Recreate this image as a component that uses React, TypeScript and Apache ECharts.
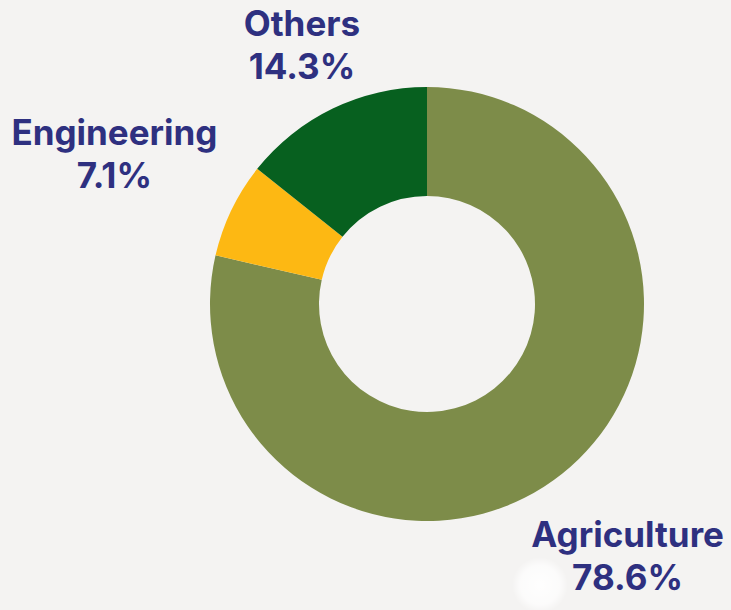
import React, { useEffect, useRef } from "react";
import * as echarts from "echarts";

const categories = ["Agriculture", "Engineering", "Others"];
const shares = [78.6, 7.1, 14.3];
const colors = ["#7d8c49", "#fdb813", "#07601f"];
const labelDistance = [322, 347, 288];

const W = 731;
const H = 610;
const CX = 427;
const CY = 304;

export default function App() {
  const ref = useRef<HTMLDivElement>(null);
  useEffect(() => {
    if (!ref.current) return;
    const chart = echarts.init(ref.current, null, { renderer: "svg" });
    const total = shares.reduce((a, b) => a + b, 0);
    const midAngles: number[] = [];
    let acc = 0;
    shares.forEach((v) => {
      midAngles.push(((acc + v / 2) / total) * Math.PI * 2);
      acc += v;
    });
    chart.setOption({
      animation: false,
      backgroundColor: "#f4f3f2",
      graphic: [
        {
          type: "circle",
          shape: { cx: 540, cy: 585, r: 28 },
          style: {
            fill: {
              type: "radial",
              x: 0.5,
              y: 0.5,
              r: 0.5,
              colorStops: [
                { offset: 0, color: "rgba(255,255,255,0.95)" },
                { offset: 0.7, color: "rgba(255,255,255,0.7)" },
                { offset: 1, color: "rgba(255,255,255,0)" },
              ],
            },
          },
          z: -1,
        },
      ],
      series: [
        {
          type: "pie",
          center: [(CX / W) * 100 + "%", (CY / H) * 100 + "%"],
          radius: [108, 217],
          startAngle: 90,
          clockwise: true,
          avoidLabelOverlap: false,
          label: {
            show: true,
            position: "outside",
            formatter: (p: any) => `${p.name}\n${p.value}%`,
            color: "#2e3080",
            fontFamily: "Inter",
            fontWeight: 700,
            fontSize: 35,
            lineHeight: 43,
            align: "center",
          },
          labelLine: { show: false },
          labelLayout: (p: any) => {
            const a = midAngles[p.dataIndex];
            const d = labelDistance[p.dataIndex];
            return {
              x: CX + d * Math.sin(a),
              y: CY - d * Math.cos(a),
              align: "center",
              verticalAlign: "middle",
            };
          },
          emphasis: { disabled: true },
          data: categories.map((name, i) => ({
            name,
            value: shares[i],
            itemStyle: { color: colors[i] },
          })),
        },
      ],
    });
    return () => chart.dispose();
  }, []);
  return (
    <div
      ref={ref}
      style={{ position: "absolute", left: 0, top: 0, width: W, height: H }}
    />
  );
}
